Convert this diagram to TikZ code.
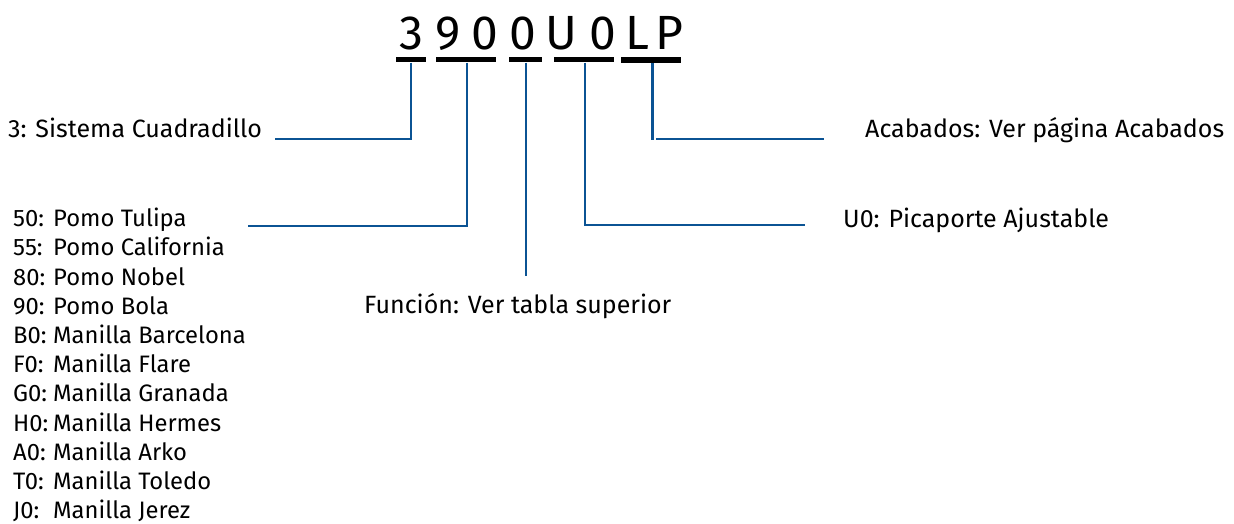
\documentclass[tikz,border=0pt]{standalone}
\usepackage{fontspec}
\setmainfont{Fira Sans}
\definecolor{linkblue}{HTML}{0B5394}
\newcommand{\rowlab}[2]{\makebox[40pt][l]{#1}#2\\}
\tikzset{
  x=1pt,y=-1pt,
  bar/.style={fill=black,draw=none,minimum height=5pt,inner sep=0pt,anchor=center},
  link/.style={draw=linkblue,line width=2.4pt},
  lab/.style={font=\fontsize{25pt}{29.2pt}\selectfont,inner sep=0pt,anchor=base west},
  listlab/.style={font=\fontsize{23.8pt}{29.2pt}\selectfont,inner sep=0pt,align=left,anchor=north west},
}
\begin{document}
\begin{tikzpicture}
\useasboundingbox (0,0) rectangle (1234,524);
\node[font=\fontsize{48pt}{50pt}\selectfont,inner sep=0pt,anchor=base] (code) at (541.5,50) {3\kern12.5pt 9\kern10.5pt 0\kern11.5pt 0\kern9.5pt U\kern11.5pt 0\kern9.5pt L\kern6.5pt P};
\node[bar,minimum width=30pt] (b1) at (411,60) {};
\node[bar,minimum width=60pt] (b2) at (466,60) {};
\node[bar,minimum width=33pt] (b3) at (525,60) {};
\node[bar,minimum width=60pt] (b4) at (584,60) {};
\node[bar,minimum width=60pt,minimum height=6pt] (b5) at (651,60) {};
\node[lab] (t1) at (8,138) {3: Sistema Cuadradillo};
\node[listlab] (list) at (13,208) {\rowlab{50:}{Pomo Tulipa}\rowlab{55:}{Pomo California}\rowlab{80:}{Pomo Nobel}\rowlab{90:}{Pomo Bola}\rowlab{B0:}{Manilla Barcelona}\rowlab{F0:}{Manilla Flare}\rowlab{G0:}{Manilla Granada}\rowlab{H0:}{Manilla Hermes}\rowlab{A0:}{Manilla Arko}\rowlab{T0:}{Manilla Toledo}\rowlab{J0:}{Manilla Jerez}};
\node[lab] (t3) at (364,313) {Función: Ver tabla superior};
\node[lab] (t4) at (843,227) {U0: Picaporte Ajustable};
\node[lab] (t5) at (865,138) {Acabados: Ver página Acabados};
\coordinate (e1) at (275,139);
\coordinate (e2) at (248,226);
\coordinate (e3) at (526,276);
\coordinate (e4) at (805,225);
\coordinate (e5a) at (652.5,140);
\coordinate (e5b) at (656,139);
\coordinate (e5c) at (824,139);
\draw[link] (b1.south) -- (411,139) -- (e1);
\draw[link] (b2.south -| 467,0) -- (467,226) -- (e2);
\draw[link] (b3.south -| e3) -- (e3);
\draw[link] (b4.south -| 585,0) -- (585,225) -- (e4);
\draw[link] (b5.south -| e5a) -- (e5a);
\draw[link] (e5b) -- (e5c);
\end{tikzpicture}
\end{document}
